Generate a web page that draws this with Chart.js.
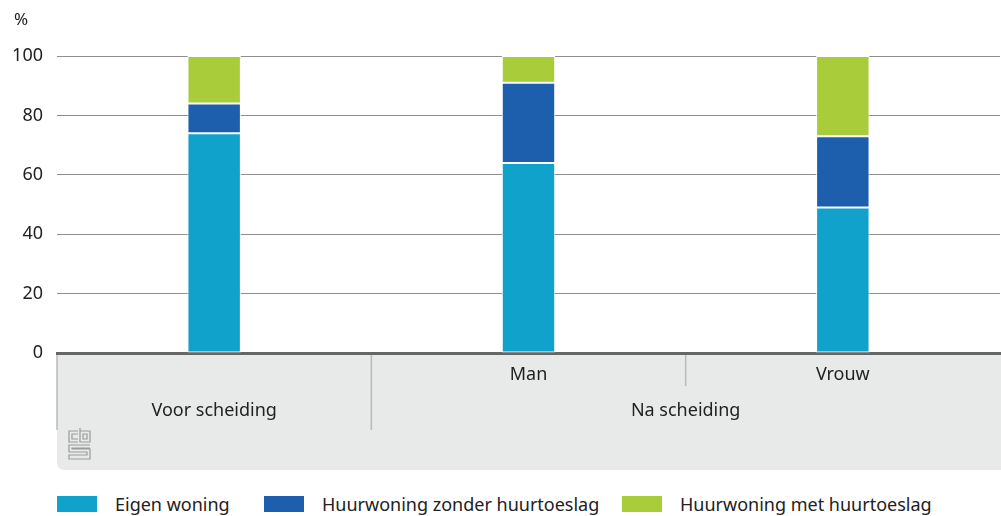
<!DOCTYPE html>
<html>
<head>
<meta charset="utf-8">
<script src="https://cdn.jsdelivr.net/npm/chart.js@4"></script>
<style>
  html, body { margin: 0; padding: 0; background: #fff; }
  #wrap { position: relative; width: 1001px; height: 516px; }
  #chart { position: absolute; left: 0; top: 0; }
  #legend { position: absolute; left: 57px; top: 492px; display: flex; font-family: "Noto Sans", sans-serif; font-size: 18px; color: #222; }
  .item { display: flex; align-items: center; white-space: nowrap; }
  .box { width: 40px; height: 16px; margin-right: 18px; flex: none; }
</style>
</head>
<body>
<div id="wrap">
  <canvas id="chart" width="1001" height="480"></canvas>
  <div id="legend"></div>
</div>
<script>
// --- DATA ---
const categories = ['', 'Man', 'Vrouw'];
const groups = ['Voor scheiding', 'Na scheiding'];
const seriesNames = ['Eigen woning', 'Huurwoning zonder huurtoeslag', 'Huurwoning met huurtoeslag'];
const eigenWoning = [74, 64, 49];
const huurZonder = [10, 27, 24];
const huurMet = [16, 9, 27];
const yTicks = [0, 20, 40, 60, 80, 100];

const colors = ['#10a2cb', '#1e5fad', '#a8cc3a'];
const legendWidths = [207, 358, 330];
const FONT = '"Noto Sans", sans-serif';

// draws the gray axis panel, separators, group labels and the logo
const axisPanel = {
    id: 'axisPanel',
    beforeDraw(chart) {
        const ctx = chart.ctx;
        const area = chart.chartArea;
        const top = area.bottom;
        const bottom = 470;
        const r = 8;
        ctx.save();
        ctx.fillStyle = '#e8e9e9';
        ctx.beginPath();
        ctx.moveTo(area.left, top);
        ctx.lineTo(1001, top);
        ctx.lineTo(1001, bottom);
        ctx.lineTo(area.left + r, bottom);
        ctx.quadraticCurveTo(area.left, bottom, area.left, bottom - r);
        ctx.closePath();
        ctx.fill();
        ctx.restore();
    },
    afterDraw(chart) {
        const ctx = chart.ctx;
        const area = chart.chartArea;
        const x = chart.scales.x;
        const top = area.bottom + 2;
        const p = i => x.getPixelForValue(i);
        const mid = (a, b) => (p(a) + p(b)) / 2;

        ctx.save();
        ctx.strokeStyle = '#b9baba';
        ctx.lineWidth = 1.5;
        const seps = [[area.left, 430], [mid(0, 1), 430], [mid(1, 2), 386]];
        seps.forEach(([sx, ey]) => {
            ctx.beginPath();
            ctx.moveTo(sx, top);
            ctx.lineTo(sx, ey);
            ctx.stroke();
        });

        ctx.fillStyle = '#222';
        ctx.font = '18px ' + FONT;
        ctx.textAlign = 'center';
        ctx.textBaseline = 'middle';
        ctx.fillText(groups[0], p(0), 411);
        ctx.fillText(groups[1], mid(1, 2), 411);

        // "%" unit label
        ctx.textAlign = 'left';
        ctx.font = '17px ' + FONT;
        ctx.fillText('%', 14, 20);

        // cbs logo (rough)
        ctx.strokeStyle = '#9a9b9b';
        ctx.lineWidth = 1.2;
        ctx.beginPath();
        // c
        ctx.moveTo(78, 431); ctx.lineTo(69, 431); ctx.lineTo(69, 442); ctx.lineTo(78, 442);
        ctx.moveTo(78, 434); ctx.lineTo(72, 434); ctx.lineTo(72, 439); ctx.lineTo(78, 439);
        // b
        ctx.moveTo(80, 428); ctx.lineTo(80, 442); ctx.lineTo(90, 442); ctx.lineTo(90, 431); ctx.lineTo(80, 431);
        ctx.rect(83, 434, 4, 5);
        // s
        ctx.moveTo(90, 445); ctx.lineTo(69, 445); ctx.lineTo(69, 452); ctx.lineTo(87, 452);
        ctx.lineTo(87, 455); ctx.lineTo(69, 455); ctx.lineTo(69, 459); ctx.lineTo(90, 459);
        ctx.lineTo(90, 449); ctx.lineTo(72, 449); ctx.lineTo(72, 448); ctx.lineTo(90, 448);
        ctx.stroke();
        ctx.restore();
    }
};

const seriesData = [eigenWoning, huurZonder, huurMet];

new Chart(document.getElementById('chart'), {
    type: 'bar',
    data: {
        labels: categories,
        datasets: seriesData.map((d, i) => ({
            label: seriesNames[i],
            data: d,
            backgroundColor: colors[i],
            borderColor: '#ffffff',
            borderWidth: 1,
            borderSkipped: false,
            barPercentage: 0.17,
            categoryPercentage: 1
        }))
    },
    options: {
        responsive: false,
        animation: false,
        layout: { padding: { top: 56, right: 1, left: 0, bottom: 0 } },
        plugins: { legend: { display: false }, tooltip: { enabled: false } },
        scales: {
            x: {
                stacked: true,
                grid: { display: false, drawTicks: false },
                border: { color: '#666', width: 3 },
                ticks: { color: '#222', font: { family: FONT, size: 18 }, padding: 11 },
                afterFit: s => { s.height = 127; }
            },
            y: {
                stacked: true,
                min: 0,
                max: 100,
                afterBuildTicks: s => { s.ticks = yTicks.map(v => ({ value: v })); },
                grid: { color: '#8e8e8e', lineWidth: 1, drawTicks: false },
                border: { display: false },
                ticks: { color: '#222', font: { family: FONT, size: 18 }, padding: 14 },
                afterFit: s => { s.width = 57; }
            }
        }
    },
    plugins: [axisPanel]
});

// legend
const legend = document.getElementById('legend');
seriesNames.forEach((name, i) => {
    const item = document.createElement('div');
    item.className = 'item';
    item.style.width = legendWidths[i] + 'px';
    item.innerHTML = `<span class="box" style="background:${colors[i]}"></span><span>${name}</span>`;
    legend.appendChild(item);
});
</script>
</body>
</html>
